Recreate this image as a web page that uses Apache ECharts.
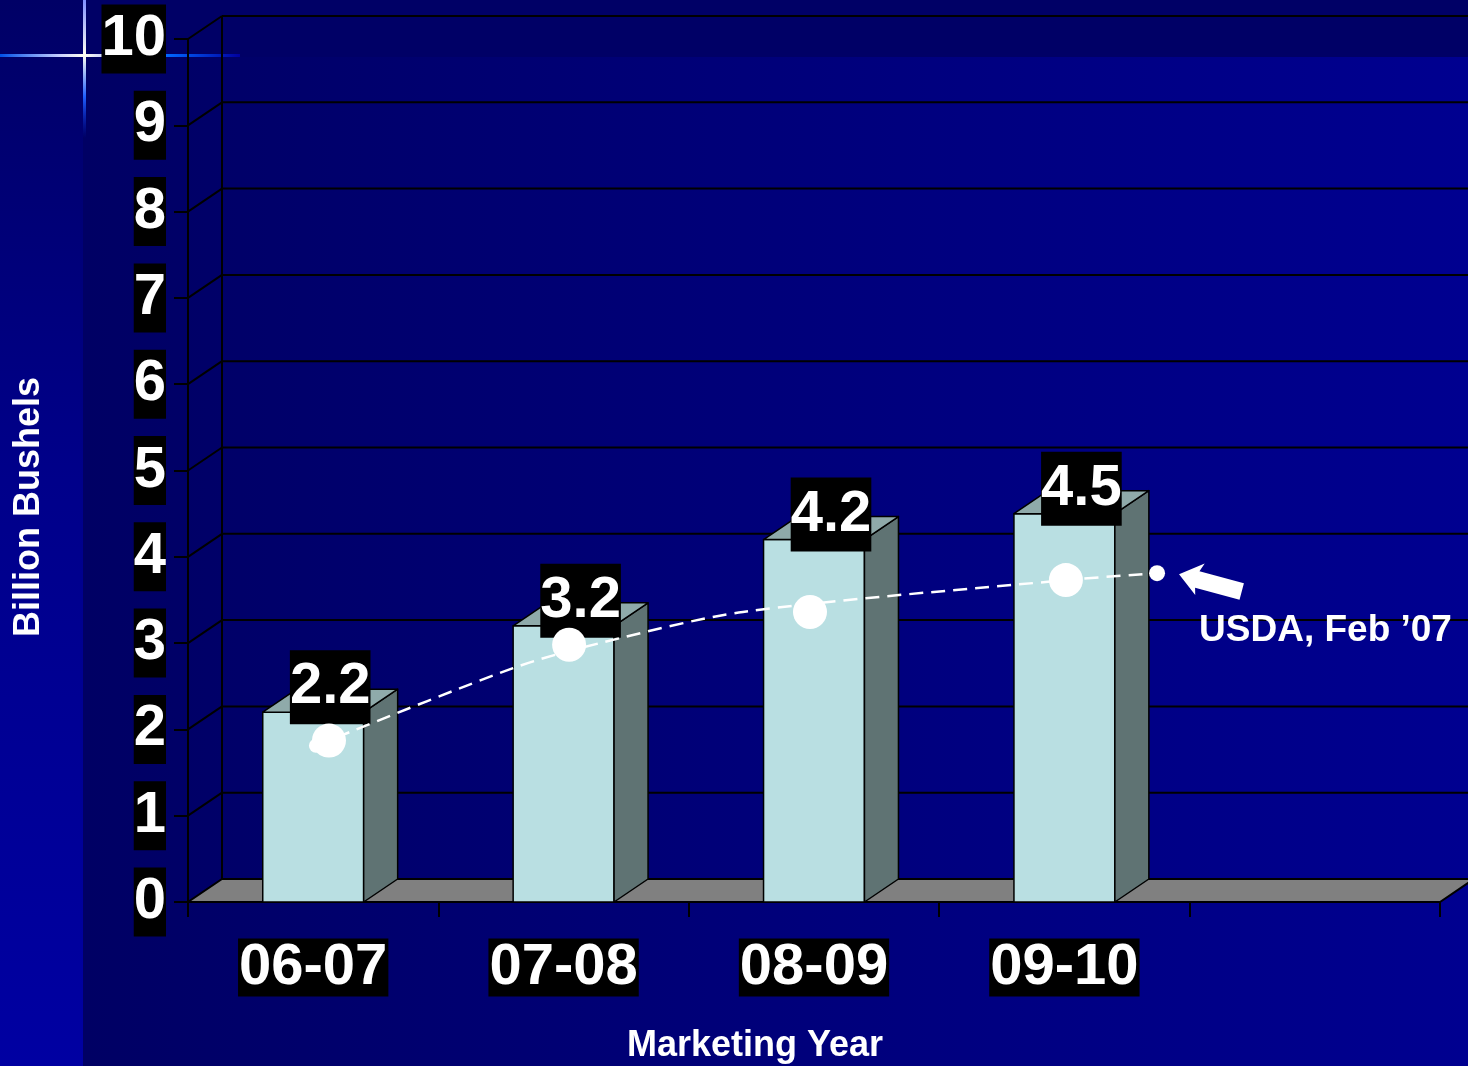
<!DOCTYPE html>
<html>
<head>
<meta charset="utf-8">
<script src="https://cdn.jsdelivr.net/npm/echarts/dist/echarts.min.js"></script>
<style>
  html, body { margin: 0; padding: 0; background: #000066; }
  #chart { width: 1468px; height: 1066px; }
</style>
</head>
<body>
<div id="chart"></div>
<script>
// Marketing years (last slot is an empty category on the floor)
const categories = ['06-07', '07-08', '08-09', '09-10', ''];
// Bar values, billion bushels
const barValues = [2.2, 3.2, 4.2, 4.5];
// USDA, Feb '07 projection: dashed curve (x in category units on a 0..5 scale)
const usdaLineX = [0.511, 1.298, 1.645, 2.216, 3.506, 3.870];
const usdaLineY = [1.81, 2.71, 3.00, 3.36, 3.73, 3.81];
// USDA, Feb '07 projection: large markers
const usdaDotX = [0.563, 1.522, 2.484, 3.506];
const usdaDotY = [1.87, 2.98, 3.36, 3.73];
// Value axis range
const yMin = 0, yMax = 10, yStep = 1;

const FONT = '"Liberation Sans", Arial, Helvetica, sans-serif';
const DX = 34, DY = -23;           // depth offset of the 3D box
const BAR_RATIO = 0.403;           // bar width as share of the category band

const chart = echarts.init(document.getElementById('chart'), null, { renderer: 'canvas' });

function baseGraphics() {
  return [
    // left panel: vertical gradient
    { id: 'bgLeft', type: 'rect', z: -20, silent: true,
      shape: { x: 0, y: 0, width: 83, height: 1066 },
      style: { fill: new echarts.graphic.LinearGradient(0, 0, 0, 1, [
        { offset: 0, color: '#000066' }, { offset: 0.45, color: '#00008a' }, { offset: 1, color: '#0000a2' }]) } },
    // main area: horizontal gradient
    { id: 'bgMain', type: 'rect', z: -20, silent: true,
      shape: { x: 83, y: 57, width: 1385, height: 1009 },
      style: { fill: new echarts.graphic.LinearGradient(0, 0, 1, 0, [
        { offset: 0, color: '#000064' }, { offset: 1, color: '#000090' }]) } },
    // top band
    { id: 'bgTop', type: 'rect', z: -20, silent: true,
      shape: { x: 83, y: 0, width: 1385, height: 57 },
      style: { fill: '#000066' } },
    // decorative glowing cross
    { id: 'crossH', type: 'rect', z: -19, silent: true,
      shape: { x: 0, y: 54, width: 240, height: 3 },
      style: { fill: new echarts.graphic.LinearGradient(0, 0, 1, 0, [
        { offset: 0, color: '#0050e8' }, { offset: 0.25, color: '#c8d0ff' }, { offset: 0.35, color: '#fffff0' },
        { offset: 0.45, color: '#c0c8ff' }, { offset: 0.7, color: '#0066ff' }, { offset: 1, color: '#0000a0' }]) } },
    { id: 'crossV', type: 'rect', z: -19, silent: true,
      shape: { x: 83, y: 0, width: 3, height: 138 },
      style: { fill: new echarts.graphic.LinearGradient(0, 0, 0, 1, [
        { offset: 0, color: '#8090ff' }, { offset: 0.4, color: '#fffff0' },
        { offset: 0.7, color: '#2060ff' }, { offset: 1, color: 'rgba(0,40,220,0)' }]) } },
    // axis titles
    { id: 'yTitle', type: 'text', z: 10, silent: true,
      x: 29, y: 507, rotation: Math.PI / 2,
      style: { text: 'Billion Bushels', fill: '#ffffff', font: 'bold 36px ' + FONT,
               align: 'center', verticalAlign: 'middle' } },
    { id: 'xTitle', type: 'text', z: 10, silent: true,
      x: 755, y: 1046,
      style: { text: 'Marketing Year', fill: '#ffffff', font: 'bold 36px ' + FONT,
               align: 'center', verticalAlign: 'middle' } }
  ];
}

// back wall, side wall and floor of the 3D frame
function renderFrame(params, api) {
  const cs = params.coordSys;
  const L = cs.x, R = cs.x + cs.width, B = cs.y + cs.height;
  const T = api.coord([0, yMax])[1];
  const children = [];
  children.push({ type: 'polygon',
    shape: { points: [[L, B], [R, B], [R + DX, B + DY], [L + DX, B + DY]] },
    style: { fill: '#808080', stroke: '#000', lineWidth: 2 } });
  children.push({ type: 'line',
    shape: { x1: L + DX, y1: B + DY, x2: L + DX, y2: T + DY },
    style: { stroke: '#000', lineWidth: 2 } });
  for (let v = yMin; v <= yMax; v += yStep) {
    const y = api.coord([0, v])[1];
    if (v > yMin) {
      children.push({ type: 'line',
        shape: { x1: L, y1: y, x2: L + DX, y2: y + DY },
        style: { stroke: '#000', lineWidth: 2 } });
      children.push({ type: 'line',
        shape: { x1: L + DX, y1: y + DY, x2: R + DX, y2: y + DY },
        style: { stroke: '#000', lineWidth: 2 } });
    }
  }
  return { type: 'group', children };
}

// 3D box bars with boxed value labels
function renderBar(params, api) {
  const idx = api.value(0), val = api.value(1);
  const base = api.coord([idx, 0]);
  const topY = api.coord([idx, val])[1];
  const band = api.size([1, 0])[0];
  const w = band * BAR_RATIO;
  const l = base[0] - w / 2, r = l + w, b = base[1];
  const stroke = { stroke: '#000', lineWidth: 1.5, lineJoin: 'round' };
  return { type: 'group', children: [
    { type: 'polygon', shape: { points: [[l, topY], [r, topY], [r, b], [l, b]] },
      style: Object.assign({ fill: '#B9DFE2' }, stroke) },
    { type: 'polygon', shape: { points: [[r, topY], [r + DX, topY + DY], [r + DX, b + DY], [r, b]] },
      style: Object.assign({ fill: '#5F7373' }, stroke) },
    { type: 'polygon', shape: { points: [[l, topY], [r, topY], [r + DX, topY + DY], [l + DX, topY + DY]] },
      style: Object.assign({ fill: '#8FAAAA' }, stroke) },
    { type: 'text', x: l + (w + DX) / 2, y: topY - 25,
      style: { text: String(val), fill: '#fff', font: 'bold 58px ' + FONT,
               align: 'center', verticalAlign: 'middle',
               backgroundColor: '#000', lineHeight: 74, padding: [0, 0] } }
  ] };
}

const lineData = usdaLineX.map((x, i) => {
  const item = { value: [x, usdaLineY[i]] };
  if (i === 0) item.symbolSize = 14;
  else if (i === usdaLineX.length - 1) item.symbolSize = 16;
  else item.symbol = 'none';
  return item;
});
const dotData = usdaDotX.map((x, i) => [x, usdaDotY[i]]);

const option = {
  animation: false,
  backgroundColor: 'transparent',
  grid: { left: 188, right: 28, top: 39, bottom: 164 },
  xAxis: [
    { type: 'category', data: categories, boundaryGap: true,
      axisLine: { show: true, lineStyle: { color: '#000', width: 2 } },
      axisTick: { show: true, length: 15, lineStyle: { color: '#000', width: 2 } },
      axisLabel: { interval: 0, margin: 31,
        formatter: v => v ? '{b|' + v + '}' : '',
        rich: { b: { color: '#fff', fontFamily: FONT, fontWeight: 'bold', fontSize: 58,
                     backgroundColor: '#000', lineHeight: 69, padding: [0, 1] } } },
      splitLine: { show: false } },
    { type: 'value', min: 0, max: categories.length, show: false }
  ],
  yAxis: { type: 'value', min: yMin, max: yMax, interval: yStep,
    axisLine: { show: true, lineStyle: { color: '#000', width: 2 } },
    axisTick: { show: true, length: 14, lineStyle: { color: '#000', width: 2 } },
    axisLabel: { margin: 22, color: '#fff', fontFamily: FONT, fontWeight: 'bold', fontSize: 58,
                 backgroundColor: '#000', lineHeight: 69, padding: [0, 0] },
    splitLine: { show: false } },
  graphic: baseGraphics(),
  series: [
    { type: 'custom', name: 'frame', xAxisIndex: 0, z: 1, silent: true,
      renderItem: renderFrame, data: [[0, 0]] },
    { type: 'custom', name: 'Exports', xAxisIndex: 0, z: 2, silent: true,
      renderItem: renderBar, data: barValues.map((v, i) => [i, v]) },
    { type: 'line', name: "USDA, Feb '07", xAxisIndex: 1, z: 4, smooth: 0.3,
      symbol: 'circle', data: lineData,
      itemStyle: { color: '#fff', opacity: 1 },
      lineStyle: { color: '#fff', width: 2.5, type: [14, 8] } },
    { type: 'scatter', name: "USDA, Feb '07 markers", xAxisIndex: 1, z: 5,
      symbolSize: 34, itemStyle: { color: '#ffffff', opacity: 1 }, data: dotData }
  ]
};
chart.setOption(option);

// annotation arrow and caption placed next to the projection's last point
const endPt = chart.convertToPixel({ xAxisIndex: 1, yAxisIndex: 0 },
  [usdaLineX[usdaLineX.length - 1], usdaLineY[usdaLineY.length - 1]]);
const tip = [endPt[0] + 22, endPt[1] + 1];
const ang = Math.atan2(16, 60);
const u = [Math.cos(ang), Math.sin(ang)], n = [-Math.sin(ang), Math.cos(ang)];
const P = (a, b) => [tip[0] + a * u[0] + b * n[0], tip[1] + a * u[1] + b * n[1]];
const g = baseGraphics();
g.push({ id: 'arrow', type: 'polygon', z: 10, silent: true,
  shape: { points: [P(0, 0), P(22, -17), P(19, -8), P(65, -8), P(65, 9), P(19, 9), P(21, 16)] },
  style: { fill: '#fff' } });
g.push({ id: 'usdaNote', type: 'text', z: 10, silent: true,
  x: endPt[0] + 42, y: endPt[1] + 58,
  style: { text: 'USDA, Feb \u201907', fill: '#fff', font: 'bold 37px ' + FONT,
           align: 'left', verticalAlign: 'middle' } });
chart.setOption({ graphic: g });
</script>
</body>
</html>
